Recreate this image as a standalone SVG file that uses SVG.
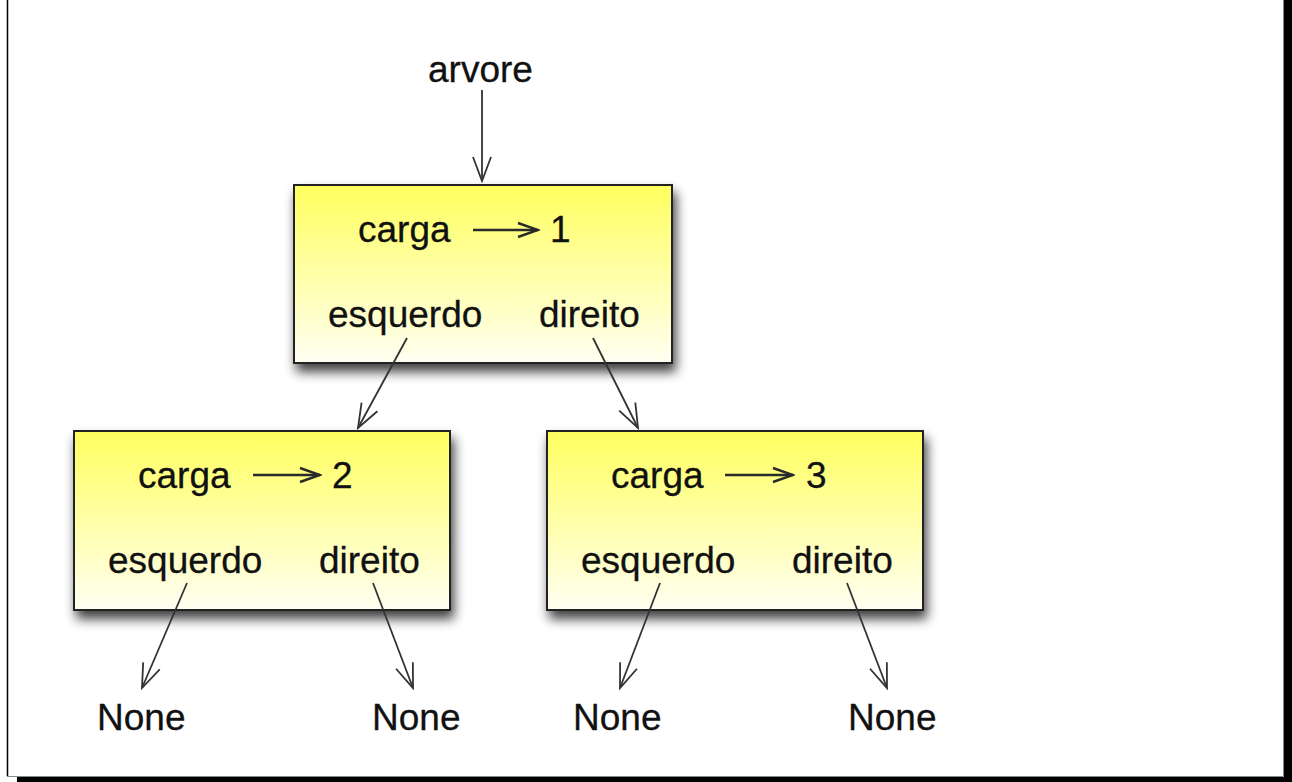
<svg xmlns="http://www.w3.org/2000/svg" width="1292" height="782" viewBox="0 0 1292 782">
<style>
text{font-family:"Liberation Sans",Arial,Helvetica,sans-serif;font-size:37px;fill:#111;stroke:#111;stroke-width:0.3}
.box{fill:url(#yg);stroke:#222;stroke-width:2}
.con{stroke:#333;stroke-width:1.8;fill:none;marker-end:url(#v)}
.inner{stroke:#2a2a2a;stroke-width:2.6;fill:none;marker-end:url(#vs)}
</style>
<defs>
<linearGradient id="yg" x1="0" y1="0" x2="0" y2="1">
<stop offset="0" stop-color="#ffff5e"/>
<stop offset="1" stop-color="#fffff2"/>
</linearGradient>
<filter id="sh" x="-10%" y="-10%" width="130%" height="150%">
<feGaussianBlur in="SourceAlpha" stdDeviation="6"/>
<feOffset dx="3" dy="8" result="b"/>
<feComponentTransfer><feFuncA type="linear" slope="0.75"/></feComponentTransfer>
<feMerge><feMergeNode/><feMergeNode in="SourceGraphic"/></feMerge>
</filter>
<marker id="v" viewBox="-26 -11 28 22" refX="0" refY="0" markerWidth="28" markerHeight="22" markerUnits="userSpaceOnUse" orient="auto">
<path d="M-24,-9 L0,0 L-24,9" fill="none" stroke="#333" stroke-width="1.8"/>
</marker>
<marker id="vs" viewBox="-22 -9 24 18" refX="0" refY="0" markerWidth="24" markerHeight="18" markerUnits="userSpaceOnUse" orient="auto">
<path d="M-20,-7 L0,0 L-20,7" fill="none" stroke="#2a2a2a" stroke-width="2.4"/>
</marker>
</defs>
<g id="frame">
<rect x="0" y="0" width="1292" height="782" fill="#fff"/>
<rect x="1284" y="0" width="8" height="782" fill="#000"/>
<rect x="17" y="777" width="1275" height="5" fill="#000"/>
<line x1="1283.5" y1="0" x2="1283.5" y2="776.5" stroke="#888" stroke-width="1"/>
<line x1="7" y1="776.5" x2="1283.5" y2="776.5" stroke="#888" stroke-width="1"/>
<line x1="7.5" y1="0" x2="7.5" y2="776" stroke="#000" stroke-width="1.5"/>
</g>
<g id="label-arvore"><text x="428" y="82">arvore</text></g>
<g id="node1">
<rect class="box" x="294" y="185" width="378" height="178" filter="url(#sh)"/>
<text x="358" y="242">carga</text>
<line class="inner" x1="473" y1="230" x2="538" y2="230"/>
<text x="550" y="242">1</text>
<text x="328" y="327">esquerdo</text>
<text x="539" y="327">direito</text>
</g>
<g id="node2">
<rect class="box" x="74" y="431" width="376" height="179" filter="url(#sh)"/>
<text x="138" y="488">carga</text>
<line class="inner" x1="253" y1="475" x2="320" y2="475"/>
<text x="332" y="488">2</text>
<text x="108" y="573">esquerdo</text>
<text x="319" y="573">direito</text>
</g>
<g id="node3">
<rect class="box" x="547" y="431" width="376" height="179" filter="url(#sh)"/>
<text x="611" y="488">carga</text>
<line class="inner" x1="725" y1="475" x2="793" y2="475"/>
<text x="806" y="488">3</text>
<text x="581" y="573">esquerdo</text>
<text x="792" y="573">direito</text>
</g>
<g id="none1"><text x="97" y="730">None</text></g>
<g id="none2"><text x="372" y="730">None</text></g>
<g id="none3"><text x="573" y="730">None</text></g>
<g id="none4"><text x="848" y="730">None</text></g>
<g id="connectors">
<line class="con" x1="482" y1="90" x2="482" y2="181" stroke="#555"/>
<line class="con" x1="407" y1="338" x2="358" y2="428"/>
<line class="con" x1="593" y1="338" x2="638" y2="428"/>
<line class="con" x1="187" y1="583" x2="142" y2="688"/>
<line class="con" x1="373" y1="583" x2="413" y2="688"/>
<line class="con" x1="660" y1="583" x2="620" y2="688"/>
<line class="con" x1="847" y1="583" x2="887" y2="688"/>
</g>
</svg>
